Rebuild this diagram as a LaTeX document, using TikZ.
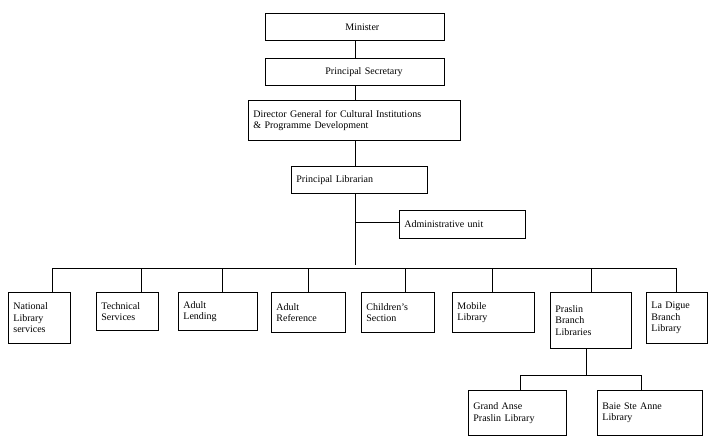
\documentclass[tikz,border=0pt]{standalone}
\usepackage{fontspec}
\setmainfont{Liberation Serif}
\begin{document}
\begin{tikzpicture}[x=1pt,y=-1pt,
  box/.style={draw,line width=0.8pt,anchor=north west,inner xsep=5pt,inner ysep=3pt,align=left,font=\fontsize{10}{11.5}\selectfont},
  ln/.style={line width=0.8pt}]
\useasboundingbox (0,0) rectangle (717,447);
\newcommand{\bx}[6]{\node[box,text width={#4-10pt},minimum height=#5] (#1) at (#2,#3) {#6};}
\bx{min}{265}{13}{179}{27}{\hspace*{75pt}Minister}
\bx{ps}{265}{58}{179}{27}{\hspace*{55pt}Principal Secretary}
\bx{dg}{248}{100}{212}{40}{Director General for Cultural Institutions\\\& Programme Development}
\bx{pl}{291}{166}{136}{27}{Principal Librarian}
\bx{au}{399}{210}{126}{28}{Administrative unit}
\bx{nl}{8}{292}{62}{51}{National\\Library\\services}
\bx{ts}{96}{292}{62}{38}{Technical\\Services}
\bx{al}{178}{292}{79}{38}{Adult\\Lending}
\bx{ar}{271}{292}{74}{40}{Adult\\Reference}
\bx{cs}{361}{292}{73}{40}{Children's\\Section}
\bx{ml}{452}{292}{82}{40}{Mobile\\Library}
\bx{pb}{550}{292}{81}{56}{Praslin\\Branch\\Libraries}
\bx{ld}{646}{292}{61}{51}{La Digue\\Branch\\Library}
\bx{ga}{468}{390}{98}{45}{Grand Anse\\Praslin Library}
\bx{bs}{597}{390}{105}{45}{Baie Ste Anne\\Library}
\coordinate (j1) at (355,193);
\coordinate (j2) at (355,222);
\coordinate (j3) at (355,265);
\draw[ln] (min.south -| 355,0) -- (ps.north -| 355,0);
\draw[ln] (ps.south -| 355,0) -- (dg.north -| 355,0);
\draw[ln] (dg.south -| 355,0) -- (pl.north -| 355,0);
\draw[ln] (j1) -- (j3);
\draw[ln] (j2) -- (au.west |- j2);
\coordinate (b1) at (52,268); \coordinate (b2) at (676,268);
\draw[ln] (b1) -- (b2);
\foreach \n/\x in {nl/52,ts/141,al/222,ar/308,cs/405,ml/492,pb/591,ld/676}
  \draw[ln] (\x,268) -- (\n.north -| \x,0);
\coordinate (p1) at (586,375);
\draw[ln] (pb.south -| 586,0) -- (p1);
\draw[ln] (520,375) -- (641,375);
\draw[ln] (520,375) -- (ga.north -| 520,0);
\draw[ln] (641,375) -- (bs.north -| 641,0);
\end{tikzpicture}
\end{document}
